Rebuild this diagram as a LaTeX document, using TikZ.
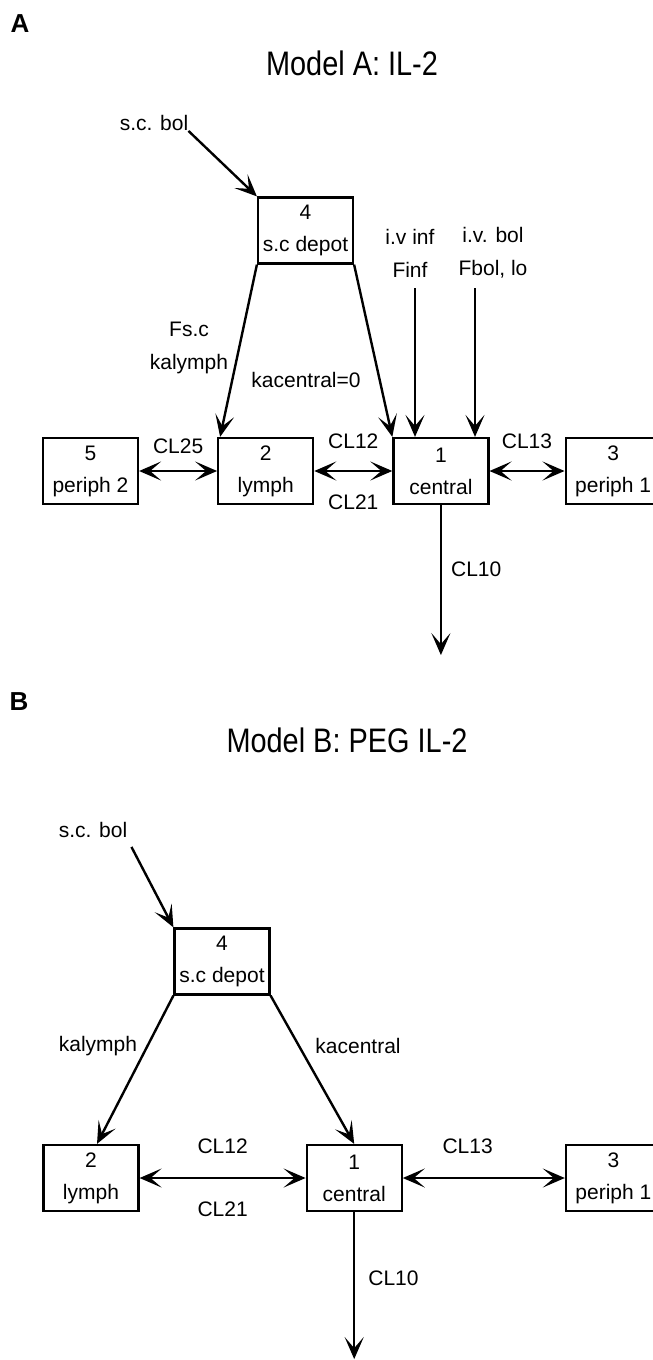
\documentclass[tikz,border=0pt]{standalone}
\usepackage{fontspec}
\setmainfont{Liberation Sans}
\newfontfamily\titlefont[FakeStretch=0.85]{Liberation Sans}
\usetikzlibrary{arrows.meta,positioning}

\begin{document}
\begin{tikzpicture}[
  x=1bp,y=1bp,
  node distance=78bp,
  comp/.style={draw,line width=2.2bp,minimum width=95bp,minimum height=66bp,inner sep=0pt,align=center,font=\fontsize{21bp}{32bp}\selectfont},
  lbl/.style={inner sep=0pt,align=center,font=\fontsize{21bp}{33bp}\selectfont},
  panel/.style={inner sep=0pt,font=\fontsize{26bp}{26bp}\selectfont\bfseries},
  heading/.style={inner sep=0pt,font=\titlefont\fontsize{34bp}{40bp}\selectfont},
  arrow/.style={-{Stealth[length=22bp,width=19bp,inset=11bp]},line width=2.4bp},
  both/.style={{Stealth[length=22bp,width=19bp,inset=11bp]}-{Stealth[length=22bp,width=19bp,inset=11bp]},line width=2.4bp}
]
\useasboundingbox (0,0) rectangle (653,-1360);
\clip (0,0) rectangle (653,-1360);

\node[panel] (labA) at (20,-24) {A};
\node[heading] (titleA) at (352,-63) {Model A: IL-2};
\node[lbl] (scbolA) at (154,-123) {s.c. bol};
\node[comp] (depotA) at (305.5,-230.5) {4\\s.c depot};
\node[lbl] (ivinfA) at (410,-253) {i.v inf\\Finf};
\node[lbl] (ivbolA) at (493,-253) {i.v. bol\\Fbol, lo};
\node[comp] (periphtwoA) at (90.5,-471) {5\\periph 2};
\node[comp,right=of periphtwoA] (lymphA) {2\\lymph};
\node[comp,right=of lymphA] (centralA) {1\\central};
\node[comp,right=75bp of centralA] (periphoneA) {3\\periph 1};
\node[lbl] (fscA) at (189,-348) {Fs.c\\kalymph};
\node[lbl] (kacA) at (306,-380) {kacentral=0};
\coordinate (infA) at (415,-288);
\coordinate (bolA) at (475,-288);
\coordinate (outA) at ([yshift=-150bp]centralA.south);
\draw[arrow] (scbolA.south east) -- (depotA.north west);
\draw[arrow] (depotA.south west) -- ([xshift=3bp]lymphA.north west);
\draw[arrow] (depotA.south east) -- (centralA.north west);
\draw[arrow] (infA) -- (infA |- centralA.north);
\draw[arrow] (bolA) -- (bolA |- centralA.north);
\draw[both] (periphtwoA) -- node[lbl,above=16bp] (cl25A) {CL25} (lymphA);
\draw[both] (lymphA) -- node[lbl,above=21bp] (cl12A) {CL12} node[lbl,below=23bp] (cl21A) {CL21} (centralA);
\draw[both] (centralA) -- node[lbl,above=21bp] (cl13A) {CL13} (periphoneA);
\draw[arrow] (centralA) -- node[lbl,right=9bp,pos=.43] (cl10A) {CL10} (outA);

\node[panel] (labB) at (19,-702) {B};
\node[heading] (titleB) at (347,-740) {Model B: PEG IL-2};
\node[lbl] (scbolB) at (93,-830) {s.c. bol};
\node[comp] (depotB) at (222,-961.5) {4\\s.c depot};
\node[comp] (lymphB) at (91,-1178) {2\\lymph};
\node[comp,right=166bp of lymphB] (centralB) {1\\central};
\node[comp,right=162bp of centralB] (periphoneB) {3\\periph 1};
\node[lbl] (kalB) at (98,-1046) {kalymph};
\node[lbl] (kacB) at (358,-1046) {kacentral};
\coordinate (outB) at ([yshift=-147bp]centralB.south);
\draw[arrow] ([shift={(4bp,-9bp)}]scbolB.south east) -- (depotB.north west);
\draw[arrow] (depotB.south west) -- ([xshift=6bp]lymphB.north);
\draw[arrow] (depotB.south east) -- (centralB.north);
\draw[both] (lymphB) -- node[lbl,above=23bp] (cl12B) {CL12} node[lbl,below=23bp] (cl21B) {CL21} (centralB);
\draw[both] (centralB) -- node[lbl,above=23bp,pos=.4] (cl13B) {CL13} (periphoneB);
\draw[arrow] (centralB) -- node[lbl,right=13bp,pos=.45] (cl10B) {CL10} (outB);
\end{tikzpicture}
\end{document}
